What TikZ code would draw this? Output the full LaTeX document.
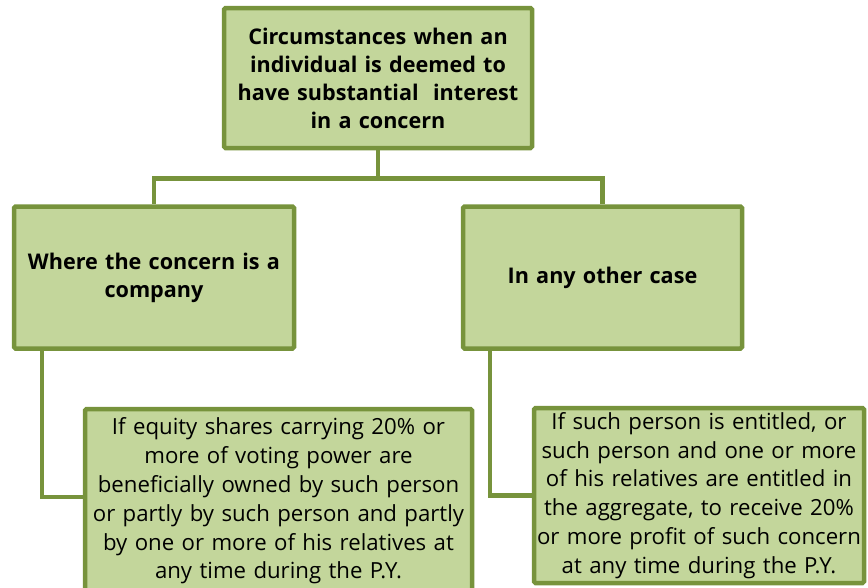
\documentclass[tikz,border=0pt]{standalone}
\usepackage{fontspec}
\setmainfont{Open Sans}
\usetikzlibrary{positioning}
\definecolor{boxfill}{RGB}{195,214,155}
\definecolor{boxline}{RGB}{119,147,60}
\tikzset{
  box/.style={draw=boxline, fill=boxfill, line width=4.5pt, rounded corners=1.5pt,
    align=center, inner sep=0pt},
  headbox/.style={box, font=\bfseries\fontsize{21.6}{28}\selectfont},
  textbox/.style={box, font=\fontsize{22.2}{28.8}\selectfont},
  link/.style={draw=boxline, line width=4.5pt}
}
\begin{document}
\begin{tikzpicture}[x=1pt,y=-1pt]
\useasboundingbox (0,0) rectangle (868,587);
\node[headbox, minimum width=308pt, minimum height=140pt, text width=300pt](top) at (378,78)
  {Circumstances when an\\individual is deemed to\\have substantial~ interest\\in a concern};
\node[headbox, below=54pt of top, xshift=-224pt, minimum width=280pt, minimum height=142pt, text width=276pt](company)
  {Where the concern is a\\company};
\node[headbox, below=54pt of top, xshift=224.5pt, minimum width=279pt, minimum height=142pt, text width=276pt](other)
  {In any other case};
\node[textbox, below=56pt of company, xshift=124.5pt, minimum width=387pt, minimum height=184pt, text width=385pt](shares)
  {If equity shares carrying 20\% or\\more of voting power are\\beneficially owned by such person\\or partly by such person and partly\\by one or more of his relatives at\\any time during the P.Y.};
\node[textbox, below=55pt of other, xshift=96.5pt, minimum width=330pt, minimum height=175pt, text width=330pt](profit)
  {If such person is entitled, or\\such person and one or more\\of his relatives are entitled in\\the aggregate, to receive 20\%\\or more profit of such concern\\at any time during the P.Y.};
\coordinate[below=28pt of top.south](fork);
\draw[link] (top.south) -- (fork) -| (company.north);
\draw[link] (fork) -| (other.north);
\draw[link] ([xshift=30pt]company.south west) |- ([yshift=4pt]shares.west);
\draw[link] ([xshift=29pt]other.south west) |- (profit.west);
\end{tikzpicture}
\end{document}
